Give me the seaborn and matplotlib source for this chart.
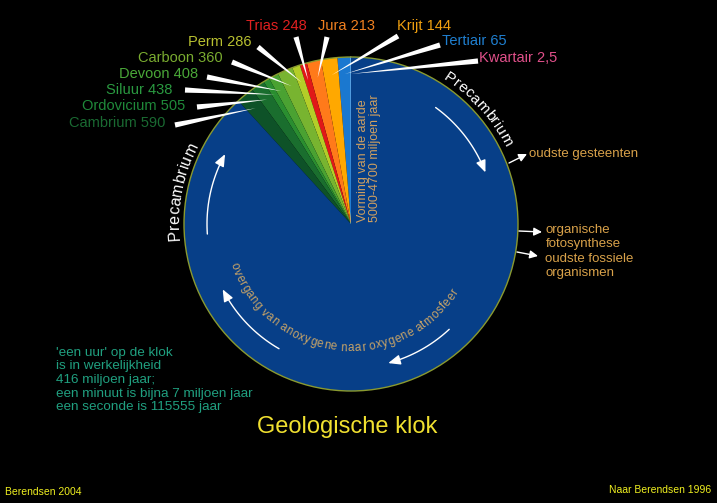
import numpy as np
import matplotlib
matplotlib.use('Agg')
import matplotlib.pyplot as plt
import seaborn as sns
from matplotlib.patches import Circle
from matplotlib.font_manager import FontProperties

# geological periods, youngest first; start ages in millions of years
periods = ['Kwartair', 'Tertiair', 'Krijt', 'Jura', 'Trias', 'Perm',
           'Carboon', 'Devoon', 'Siluur', 'Ordovicium', 'Cambrium', 'Precambrium']
start_ages = [2.5, 65, 144, 213, 248, 286, 360, 408, 438, 505, 590, 5000]
age_labels = ['2,5', '65', '144', '213', '248', '286', '360', '408', '438', '505', '590']

wedge_colors = ['#9fd0f5', '#1a78d0', '#ffa800', '#ff7a1a', '#e01818', '#b4ce28',
                '#78b430', '#4aa232', '#2a8e30', '#1a6e2e', '#0e5228', '#073f88']
label_colors = ['#e0508a', '#1f7fd0', '#f0a010', '#f08020', '#e02020', '#b8c030',
                '#7aac30', '#4aa838', '#2a9a40', '#1f8a3a', '#1a6a32']

# label layout in pixel coordinates: text x, y, alignment and start of pointer
label_xy = [(479, 58, 'left'), (442, 41, 'left'), (424, 26, 'center'), (347, 26, 'center'),
            (276, 26, 'center'), (252, 42, 'right'), (223, 58, 'right'), (198, 74, 'right'),
            (172, 90, 'right'), (185, 106, 'right'), (165, 123, 'right')]
pointer_start = [(478, 61), (440, 45), (398, 36), (327, 37), (296, 37), (258, 47),
                 (232, 62), (207, 77), (185, 90), (197, 107), (175, 125)]

CX, CY, R = 351, 224, 167
TOTAL = start_ages[-1]

sns.set_theme(style='dark')
plt.rcParams['font.family'] = ['Liberation Sans', 'DejaVu Sans']

durations = np.diff([0] + start_ages)

fig = plt.figure(figsize=(7.17, 5.03), dpi=100, facecolor='black')
ax = fig.add_axes([0, 0, 1, 1])
ax.set_facecolor('black')

wedges, _ = ax.pie(durations, colors=wedge_colors, startangle=270, counterclock=False,
                   center=(CX, CY), radius=R, wedgeprops=dict(linewidth=0))
wedges[0].set_edgecolor('#9fd0f5')
wedges[0].set_linewidth(0.8)
ax.add_patch(Circle((CX, CY), R, fill=False, ec='#8a9a30', lw=1))
ax.set_xlim(0, 717)
ax.set_ylim(503, 0)
ax.set_aspect('equal')
ax.axis('off')


def polar(phi, r):
    """visual angle in degrees, clockwise from 12 o'clock"""
    p = np.radians(phi)
    return CX + r * np.sin(p), CY - r * np.cos(p)


# period labels with tapering white pointers
bounds = np.concatenate([[0], start_ages])
for i, name in enumerate(periods[:-1]):
    tx, ty, ha = label_xy[i]
    ax.text(tx, ty, f'{name} {age_labels[i]}', color=label_colors[i], fontsize=10.5,
            ha=ha, va='center')
    mid = (bounds[i] + bounds[i + 1]) / 2 / TOTAL * 360
    end = polar(-mid, 150)
    ax.annotate('', xy=end, xytext=pointer_start[i],
                arrowprops=dict(arrowstyle='wedge,tail_width=0.38,shrink_factor=0.5',
                                fc='white', ec='none', shrinkA=0, shrinkB=0,
                                mutation_scale=10))

# text along the circle, measured with the real renderer (pixels)
renderer = fig.canvas.get_renderer()


def arc_text(s, phi_c, r, size, color, inward=False, stretch=1.0):
    fp = FontProperties(family='Liberation Sans', size=size)

    def w(t):
        return renderer.get_text_width_height_descent(t, fp, ismath=False)[0]

    base = w('l')
    lefts = [w(s[:k] + 'l') - base if k else 0 for k in range(len(s) + 1)]
    total = lefts[-1]
    d = -1 if inward else 1
    for k, ch in enumerate(s):
        if ch == ' ':
            continue
        c = ((lefts[k] + lefts[k + 1]) / 2 - total / 2) * stretch
        phi = phi_c + d * np.degrees(c / r)
        x, y = polar(phi, r)
        rot = 180 - phi if inward else -phi
        ax.text(x, y, ch, color=color, rotation=rot, rotation_mode='anchor',
                ha='center', va='baseline', fontproperties=fp)


arc_text('Precambrium', 48, 172, 11, 'white', stretch=1.04)
arc_text('Precambrium', -79, 172, 11.5, 'white', stretch=1.04)
arc_text('overgang van anoxygene naar oxygene atmosfeer', 187, 127, 8.4, '#c8a468',
         inward=True, stretch=1.1)


# clock-wise arrows inside the circle
def arc_arrow(phi1, phi2, r=144):
    phis = np.linspace(phi1, phi2, 40)
    xs, ys = polar(phis, r)
    ax.plot(xs[:-2], ys[:-2], color='white', lw=1)
    ax.annotate('', xy=(xs[-1], ys[-1]), xytext=(xs[-4], ys[-4]),
                arrowprops=dict(arrowstyle='-|>,head_length=0.6,head_width=0.25',
                                color='white', lw=1, shrinkA=0, shrinkB=0))


for a, b in [(36, 69), (-94, -61), (210, 243), (137, 165)]:
    arc_arrow(a, b)

tan = '#d9a24a'
ax.text(363, 222, 'Vorming van de aarde', rotation=90, color='#d0a060', fontsize=9,
        ha='center', va='bottom')
ax.text(375, 222, '5000-4700 miljoen jaar', rotation=90, color='#d0a060', fontsize=9,
        ha='center', va='bottom')

notes = [('oudste gesteenten', (529, 154), (509, 163), (527, 154)),
         ('organische\nfotosynthese', (546, 237), (519, 231), (542, 232)),
         ('oudste fossiele\norganismen', (545, 266), (517, 252), (538, 256))]
for txt, pos, a, b in notes:
    ax.text(pos[0], pos[1], txt, color=tan, fontsize=9.5, ha='left', va='center',
            linespacing=1.2)
    ax.annotate('', xy=b, xytext=a,
                arrowprops=dict(arrowstyle='-|>,head_length=0.4,head_width=0.2',
                                color='white', lw=1, shrinkA=0, shrinkB=0))

ax.text(56, 380, "'een uur' op de klok\nis in werkelijkheid\n416 miljoen jaar;\n"
        "een minuut is bijna 7 miljoen jaar\neen seconde is 115555 jaar",
        color='#20a080', fontsize=9.7, ha='left', va='center', linespacing=1.17)

ax.text(347, 427, 'Geologische klok', color='#f0e030', fontsize=17, ha='center',
        va='center')
ax.text(5, 492, 'Berendsen 2004', color='#f0f020', fontsize=7.5, ha='left', va='center')
ax.text(711, 490, 'Naar Berendsen 1996', color='#f0f020', fontsize=7.5, ha='right',
        va='center')

fig.savefig('out.png', dpi=100, facecolor='black')
